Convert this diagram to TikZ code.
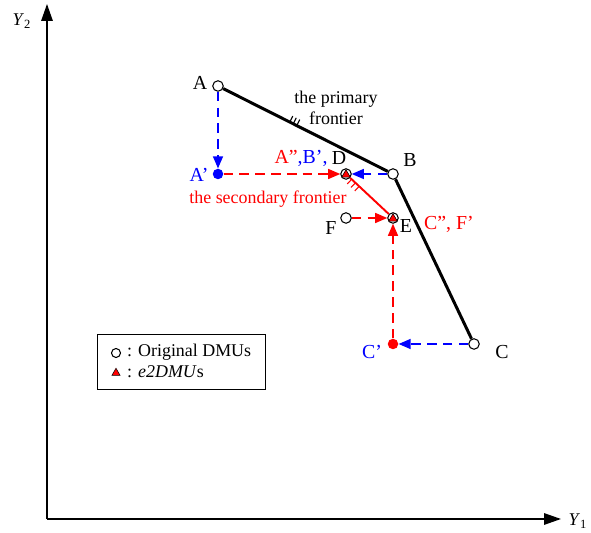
\documentclass[tikz,border=0pt]{standalone}
\usepackage{fontspec}
\setmainfont{Liberation Serif}
\usetikzlibrary{arrows.meta,shapes.geometric,calc}
\begin{document}
\begin{tikzpicture}[
    x=0.02cm,
    y=0.02cm,
    >={Triangle[length=0.24cm,width=0.2cm]},
    axis/.style={-{Triangle[length=0.34cm,width=0.23cm]},line width=0.85pt},
    frontier/.style={line width=1.7pt},
    move/.style={->,line width=0.7pt,dash pattern=on 5.5pt off 3.5pt},
    dmu/.style={circle,draw,fill=white,line width=0.6pt,inner sep=0pt,minimum size=0.21cm},
    proj/.style={circle,fill,inner sep=0pt,minimum size=0.21cm},
    tri/.style={regular polygon,regular polygon sides=3,fill=red,draw=black,
      line width=0.3pt,inner sep=0pt,minimum size=0.2cm},
    lbl/.style={font=\fontsize{10.2}{12}\selectfont},
    pt/.style={font=\fontsize{11.3}{13}\selectfont}
  ]
    \useasboundingbox (0,0) rectangle (591,533);

    % axes
    \coordinate (O) at (47,14);
    \coordinate (Ytop) at (47,529);
    \coordinate (Xend) at (561,14);
    \draw[axis] (O) -- (Ytop);
    \draw[axis] (O) -- (Xend);
    \node[lbl] (y2) at (22,512) {\textit{Y}\textsubscript{2}};
    \node[lbl] (y1) at (578,12) {\textit{Y}\textsubscript{1}};

    % DMUs
    \node[dmu] (A) at (218,447) {};
    \node[dmu] (B) at (393,359) {};
    \node[dmu] (C) at (474,189) {};
    \node[dmu] (F) at (346,315) {};
    \node[dmu] (D) at (346,359) {};
    \node[dmu] (E) at (393,315) {};
    \node[tri] (Dt) at (346,358.3) {};
    \node[tri] (Et) at (393,314.3) {};
    \node[proj,blue] (Ap) at (218,359) {};
    \node[proj,red] (Cp) at (393,189) {};

    % frontiers
    \draw[frontier] (A) -- (B) -- (C);
    \draw[red,line width=1.1pt] (D) -- (E);
    \foreach \t in {0.41,0.43,0.45}
      \draw[line width=0.6pt] ($(A.center)!\t!(B.center)$) -- ++(3,6);
    \foreach \t in {0.12,0.20,0.28}
      \draw[red,line width=0.6pt] ($(D.center)!\t!(E.center)$) -- ++(-4.4,-4.7);

    % projections
    \draw[move,blue] (A) -- (Ap);
    \draw[move,red] (Ap) -- (D);
    \draw[move,blue] (B) -- (D);
    \draw[move,red] (F) -- (E);
    \draw[move,blue] (C) -- (Cp);
    \draw[move,red] (Cp) -- (E);

    % labels
    \node[pt] (lA) at (200,450) {A};
    \node[pt] (lB) at (410,373) {B};
    \node[pt] (lC) at (502,181) {C};
    \node[pt] (lD) at (339,375) {D};
    \node[pt] (lE) at (406,307) {E};
    \node[pt] (lF) at (331,305) {F};
    \node[pt,blue] (lAp) at (199,358) {A’};
    \node[pt,blue] (lCp) at (372,181) {C’};
    \node[pt] (lAB) at (301,375) {\textcolor{red}{A”}\textcolor{blue}{,B’,}};
    \node[pt,red] (lCF) at (449,309) {C”, F’};
    \node[lbl,align=center] (prim) at (336,425) {the primary\\frontier};
    \node[lbl,red] (sec) at (268,334) {the secondary frontier};

    % legend
    \draw[line width=0.5pt] (97,144) rectangle (265,199);
    \node[dmu,minimum size=0.18cm] (key1) at (116,180) {};
    \node[tri,minimum size=0.19cm] (key2) at (116,160) {};
    \node[lbl,anchor=west] (txt1) at (121,181) {: Original DMUs};
    \node[lbl,anchor=west] (txt2) at (121,161) {: \textit{e2DMU}s};
\end{tikzpicture}
\end{document}
